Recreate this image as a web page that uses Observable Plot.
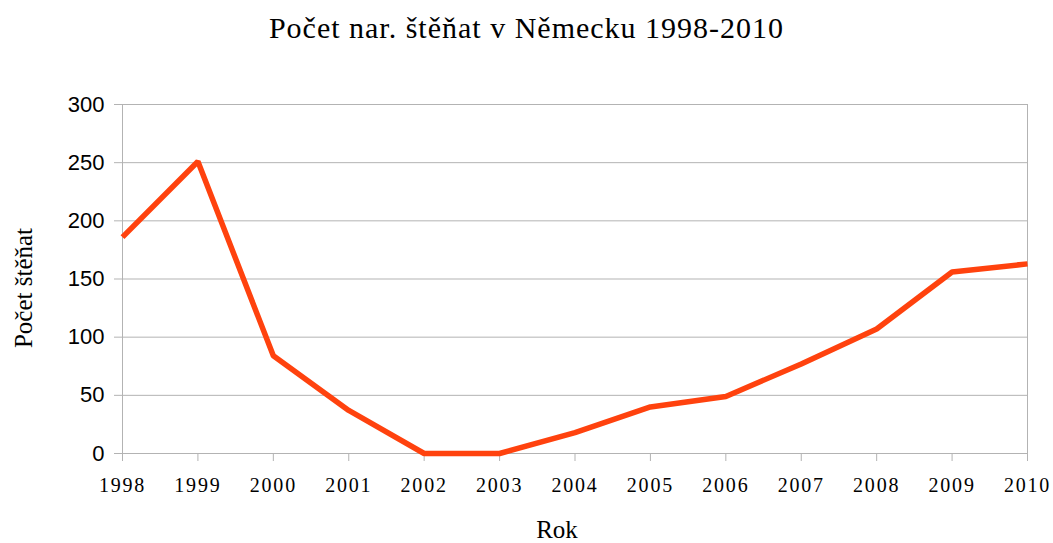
<!DOCTYPE html>
<html>
<head>
<meta charset="utf-8">
<script src="https://cdn.jsdelivr.net/npm/d3@7"></script>
<script src="https://cdn.jsdelivr.net/npm/@observablehq/plot@0.6"></script>
<style>
  html, body { margin: 0; padding: 0; background: #fff; }
  #title { height: 60px; width: 1053px; text-align: center; font-family: "Liberation Serif", "Times New Roman", serif; font-size: 30px; letter-spacing: 1px; line-height: 30px; padding-top: 13px; box-sizing: border-box; color: #000; }
  #chart { width: 1053px; }
  #chart g[aria-label="x-axis tick label"] text { letter-spacing: 1.8px; }
  #chart g[aria-label="ylab"] text { letter-spacing: 2.4px; }
</style>
</head>
<body>
<div id="title">Počet nar. štěňat v Německu 1998-2010</div>
<div id="chart"></div>
<script>
const years = [1998, 1999, 2000, 2001, 2002, 2003, 2004, 2005, 2006, 2007, 2008, 2009, 2010];
const puppies = [186, 251, 84, 37, 0, 0, 18, 40, 49, 77, 107, 156, 163];
const yTicks = [0, 50, 100, 150, 200, 250, 300];
const xLabel = "Rok";
const yLabel = "Počet štěňat";

const data = years.map((y, i) => ({year: y, value: puppies[i]}));
const grid = "#b3b3b3";

const chart = Plot.plot({
  width: 1053,
  height: 483,
  marginTop: 44,
  marginBottom: 90,
  marginLeft: 122,
  marginRight: 26,
  style: {background: "#fff", overflow: "visible"},
  x: {type: "linear", domain: [1998, 2010]},
  y: {domain: [0, 300]},
  marks: [
    Plot.gridY(yTicks, {stroke: grid, strokeOpacity: 1, strokeWidth: 1}),
    Plot.axisY(yTicks, {tickSize: 8, tickPadding: 10, stroke: grid, strokeOpacity: 1, fontSize: 22, fontFamily: "Liberation Sans, Arial, sans-serif", fill: "#000", label: null}),
    Plot.axisX(years, {tickSize: 8, tickPadding: 16, stroke: grid, strokeOpacity: 1, tickFormat: d => String(d), fontSize: 20, fontFamily: "Liberation Serif, Times New Roman, serif", fill: "#000", label: null}),
    Plot.ruleX([years[0], years[years.length - 1]], {stroke: grid, strokeWidth: 1}),
    Plot.ruleY([0], {stroke: grid, strokeWidth: 1}),
    Plot.line(data, {x: "year", y: "value", stroke: "#ff420e", strokeWidth: 5.5, strokeLinejoin: "miter", strokeLinecap: "butt"}),
    Plot.text([xLabel], {frameAnchor: "bottom", dx: -18, dy: 84, fontSize: 25, fontFamily: "Liberation Serif, Times New Roman, serif", fill: "#000", lineAnchor: "bottom"}),
    Plot.text([yLabel], {ariaLabel: "ylab", frameAnchor: "left", textAnchor: "middle", dx: -99, dy: 9, rotate: -90, fontSize: 25, fontFamily: "Liberation Serif, Times New Roman, serif", fill: "#000"})
  ]
});
document.getElementById("chart").appendChild(chart);
</script>
</body>
</html>
